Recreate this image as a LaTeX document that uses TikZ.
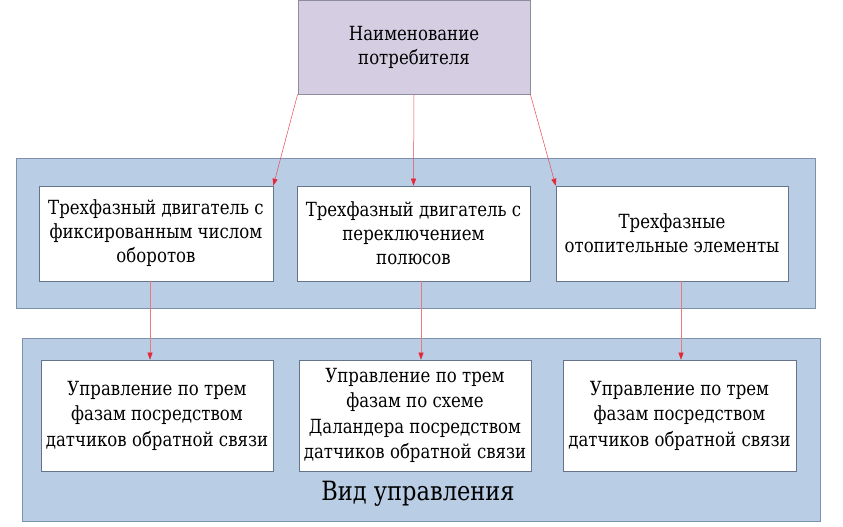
\documentclass[tikz,border=0pt]{standalone}
\usepackage{fontspec}
\setmainfont{DejaVu Serif}[FakeStretch=0.85]
\usetikzlibrary{arrows.meta}
\definecolor{bandfill}{RGB}{185,205,229}
\definecolor{banddraw}{RGB}{125,145,175}
\definecolor{topfill}{RGB}{213,206,227}
\definecolor{topdraw}{RGB}{140,140,155}
\definecolor{arrowred}{RGB}{228,40,58}
\definecolor{linered}{RGB}{236,120,130}
\tikzset{
  band/.style={draw=banddraw, fill=bandfill, line width=0.8pt, inner sep=0pt},
  whitebox/.style={draw=banddraw!80!black, fill=white, line width=0.6pt, inner sep=2pt, align=center,
    font=\rmfamily\fontsize{19.5}{24}\selectfont},
  lowbox/.style={whitebox, font=\rmfamily\fontsize{19.5}{25.5}\selectfont},
  topbox/.style={draw=topdraw, fill=topfill, line width=0.8pt, align=center, font=\rmfamily\fontsize{19.5}{24}\selectfont},
  arr/.style={draw=linered, line width=0.5pt, -{Triangle[length=7pt,width=5pt,color=arrowred,fill=arrowred]}},
  arrtop/.style={arr, draw=arrowred!85}
}
\begin{document}
\begin{tikzpicture}[x=1pt,y=-1pt]
\useasboundingbox (0,0) rectangle (843,527);
\node[band, minimum width=799pt, minimum height=150pt] (band1) at (415.5,233) {};
\node[band, minimum width=798pt, minimum height=183pt] (band2) at (421,429.5) {};
\node[topbox, minimum width=232pt, minimum height=94pt] (top) at (414,47) {Наименование\\потребителя};
\node[whitebox, minimum width=234pt, minimum height=95pt] (a1) at (156,233.5) {Трехфазный двигатель с\\фиксированным числом\\оборотов};
\node[whitebox, minimum width=233pt, minimum height=95pt] (a2) at (413.5,233.5) {Трехфазный двигатель с\\переключением\\полюсов};
\node[whitebox, minimum width=232pt, minimum height=95pt] (a3) at (672,233.5) {Трехфазные\\отопительные элементы};
\node[lowbox, minimum width=232pt, minimum height=111pt] (b1) at (157,415.5) {Управление по трем\\фазам посредством\\датчиков обратной связи};
\node[lowbox, minimum width=232pt, minimum height=111pt] (b2) at (415,415.5) {Управление по трем\\фазам по схеме\\Даландера посредством\\датчиков обратной связи};
\node[lowbox, minimum width=233pt, minimum height=111pt] (b3) at (679.5,415.5) {Управление по трем\\фазам посредством\\датчиков обратной связи};
\node[font=\rmfamily\fontsize{26.5}{30}\selectfont] (lbl) at (418,494) {Вид управления};
\draw[arrtop] (top.south west) -- (a1.north east);
\draw[arrtop] (top.south) -- (a2.north);
\draw[arrtop] (top.south east) -- (a3.north west);
\draw[arr] ([xshift=-6pt]a1.south) -- ([xshift=-7pt]b1.north);
\draw[arr] ([xshift=7.5pt]a2.south) -- ([xshift=6pt]b2.north);
\draw[arr] ([xshift=9pt]a3.south) -- ([xshift=1.5pt]b3.north);
\end{tikzpicture}
\end{document}
